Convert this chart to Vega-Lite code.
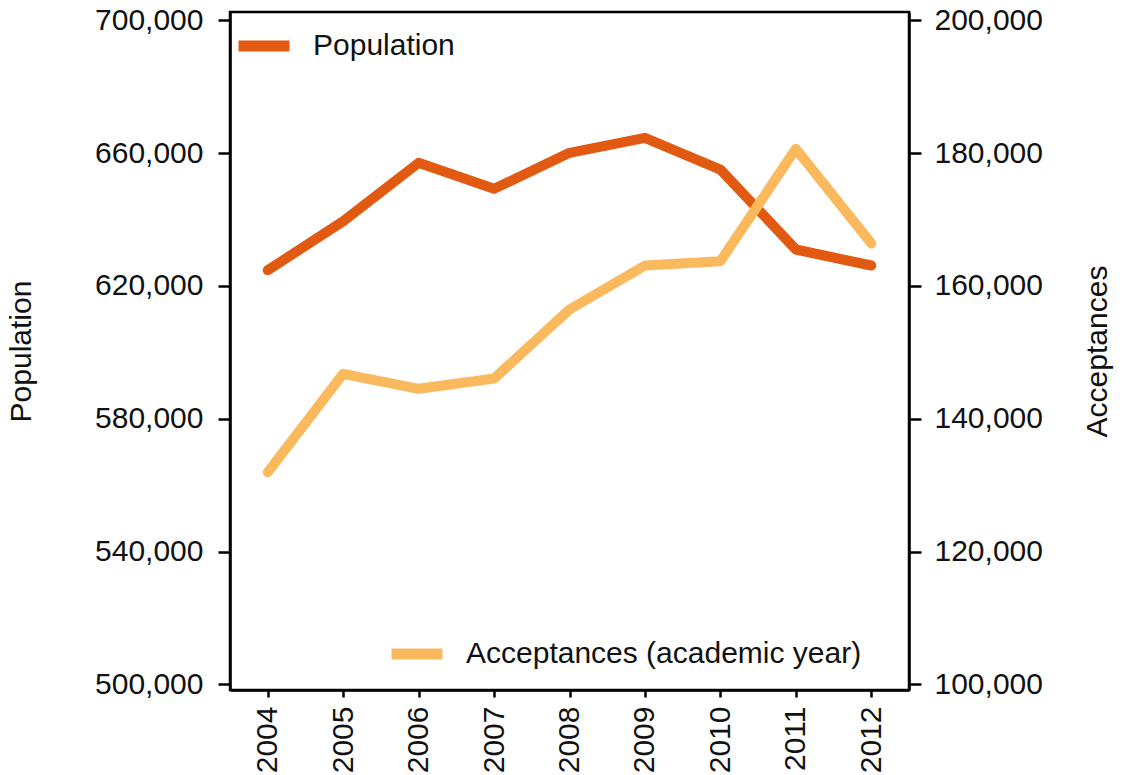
{
  "$schema": "https://vega.github.io/schema/vega-lite/v6.json",
  "autosize": "none",
  "width": 679,
  "height": 678,
  "padding": {"left": 230, "top": 12, "right": 213, "bottom": 85},
  "background": "white",
  "config": {
    "view": {"stroke": "black", "strokeWidth": 2.5},
    "font": "Liberation Sans",
    "axis": {
      "domainColor": "black",
      "domainWidth": 2.5,
      "tickColor": "black",
      "tickWidth": 2.5,
      "labelFont": "Liberation Sans",
      "labelFontSize": 30,
      "labelColor": "#111111",
      "titleFont": "Liberation Sans",
      "titleFontSize": 30,
      "titleFontWeight": "normal",
      "titleColor": "#111111",
      "grid": false
    },
    "legend": {
      "labelFont": "Liberation Sans",
      "labelFontSize": 30,
      "labelColor": "#111111",
      "labelLimit": 0,
      "symbolType": "stroke",
      "symbolSize": 2601,
      "symbolStrokeWidth": 11,
      "labelOffset": 18,
      "padding": 0,
      "title": null
    }
  },
  "data": {
    "values": [
      {"year": 2004, "population": 624730, "acceptances": 131960},
      {"year": 2005, "population": 639480, "acceptances": 146770},
      {"year": 2006, "population": 657070, "acceptances": 144510},
      {"year": 2007, "population": 649240, "acceptances": 146060},
      {"year": 2008, "population": 660080, "acceptances": 156450},
      {"year": 2009, "population": 664590, "acceptances": 163070},
      {"year": 2010, "population": 655050, "acceptances": 163720},
      {"year": 2011, "population": 630970, "acceptances": 180640},
      {"year": 2012, "population": 626150, "acceptances": 166390}
    ]
  },
  "encoding": {
    "x": {
      "field": "year",
      "type": "quantitative",
      "scale": {"domain": [2003.5, 2012.5], "nice": false, "zero": false},
      "axis": {
        "title": null,
        "values": [2004, 2005, 2006, 2007, 2008, 2009, 2010, 2011, 2012],
        "format": "d",
        "labelAngle": -90,
        "labelAlign": "right",
        "labelBaseline": "middle",
        "tickSize": 7,
        "labelPadding": 9,
        "labelFlush": false,
        "labelOverlap": false
      }
    }
  },
  "layer": [
    {
      "transform": [{"calculate": "'Population'", "as": "series"}],
      "mark": {"type": "line", "strokeWidth": 10, "strokeCap": "round", "strokeJoin": "round"},
      "encoding": {
        "y": {
          "field": "population",
          "type": "quantitative",
          "scale": {"domain": [498300, 702500], "nice": false, "zero": false},
          "axis": {
            "title": "Population",
            "orient": "left",
            "values": [500000, 540000, 580000, 620000, 660000, 700000],
            "format": ",d",
            "tickSize": 12,
            "labelPadding": 15,
            "titlePadding": 58
          }
        },
        "color": {
          "field": "series",
          "type": "nominal",
          "scale": {"domain": ["Population"], "range": ["#E25A12"]},
          "legend": {"orient": "none", "legendX": 3, "legendY": 3}
        }
      }
    },
    {
      "transform": [{"calculate": "'Acceptances (academic year)'", "as": "series"}],
      "mark": {"type": "line", "strokeWidth": 10, "strokeCap": "round", "strokeJoin": "round"},
      "encoding": {
        "y": {
          "field": "acceptances",
          "type": "quantitative",
          "scale": {"domain": [99170, 201240], "nice": false, "zero": false},
          "axis": {
            "title": "Acceptances",
            "orient": "right",
            "values": [100000, 120000, 140000, 160000, 180000, 200000],
            "format": ",d",
            "tickSize": 12,
            "labelPadding": 13,
            "titlePadding": 70,
            "titleAngle": 270
          }
        },
        "color": {
          "field": "series",
          "type": "nominal",
          "scale": {"domain": ["Acceptances (academic year)"], "range": ["#FBB95D"]},
          "legend": {"orient": "none", "legendX": 156, "legendY": 611}
        }
      }
    }
  ],
  "resolve": {
    "scale": {"y": "independent", "color": "independent"},
    "legend": {"color": "independent"}
  }
}
